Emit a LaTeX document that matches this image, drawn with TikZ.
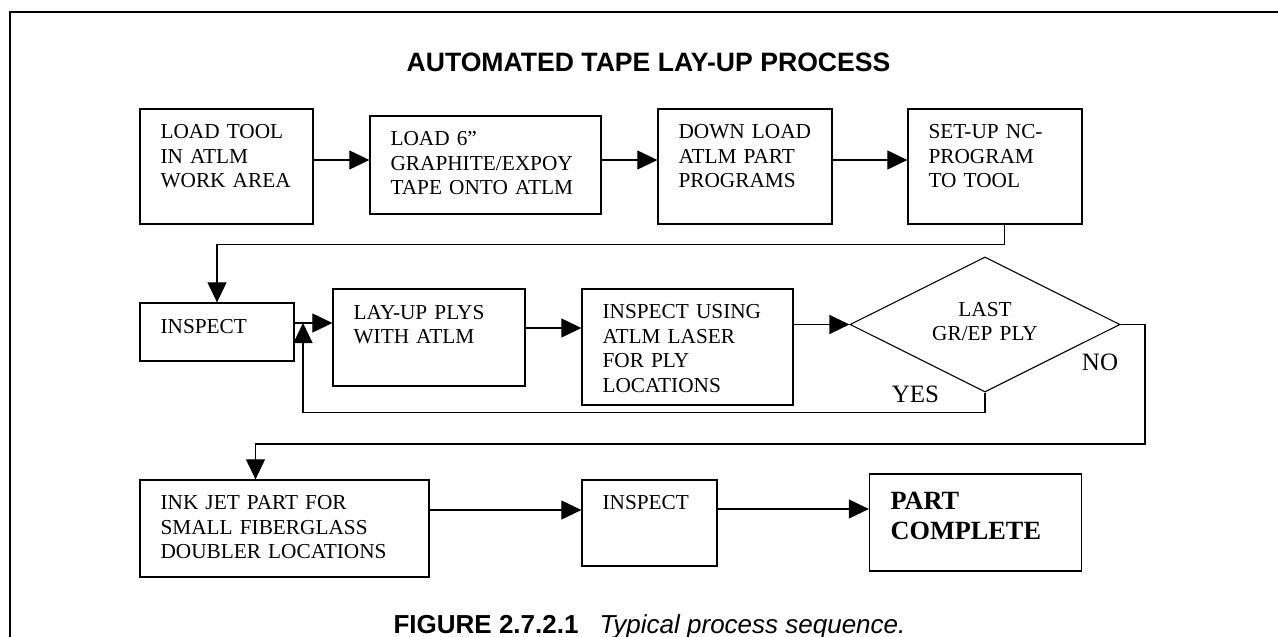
\documentclass[tikz,border=0pt]{standalone}
\usepackage{fontspec}
\setmainfont{Liberation Serif}
\newfontfamily\arialfont{Liberation Sans}
\usetikzlibrary{arrows.meta,shapes.geometric,calc}
\begin{document}
\begin{tikzpicture}[x=1pt,y=-1pt,
  box/.style={draw,line width=1.3pt,inner sep=0pt},
  conn/.style={line width=1.1pt,-{Triangle[length=20pt,width=19pt]}},
  frame/.style={line width=2pt},
  txt/.style={font=\fontsize{21.3}{24.5}\selectfont,text width=280pt,align=left,inner sep=0pt,anchor=base west},
  bigtxt/.style={font=\bfseries\fontsize{26.3}{30}\selectfont,text width=180pt,align=left,inner sep=0pt,anchor=base west},
  lbl/.style={font=\fontsize{25}{28}\selectfont,inner sep=0pt,anchor=base},
  head/.style={font=\arialfont\bfseries\fontsize{26.6}{30}\selectfont,inner sep=0pt,anchor=base}
]
\useasboundingbox (0,0) rectangle (1278,637);
\draw[frame] (9.5,640) -- (9.5,12) -- (1280,12);

\node[head] (title) at (648.5,71) {AUTOMATED TAPE LAY-UP PROCESS};

% boxes
\node[box,minimum width=173pt,minimum height=115pt] (b1) at (226.5,166.5) {};
\node[box,minimum width=231pt,minimum height=98pt] (b2) at (485.5,165) {};
\node[box,minimum width=174pt,minimum height=115pt] (b3) at (745,166.5) {};
\node[box,minimum width=174pt,minimum height=115pt] (b4) at (995,166.5) {};
\node[box,minimum width=154pt,minimum height=58pt] (i1) at (217,332) {};
\node[box,minimum width=192pt,minimum height=97pt] (lu) at (429,337.5) {};
\node[box,minimum width=211pt,minimum height=116pt] (b5) at (687.5,347) {};
\node[draw,diamond,line width=1.1pt,inner sep=0pt,aspect=2,minimum width=270pt,minimum height=135pt] (d) at (985,324.5) {};
\node[box,minimum width=289pt,minimum height=97pt] (ink) at (284.5,528.5) {};
\node[box,minimum width=135pt,minimum height=86pt] (i2) at (649.5,523) {};
\node[box,minimum width=212pt,minimum height=97pt] (pc) at (975.5,522.5) {};

% texts
\node[txt] (t1) at ($(b1.north west)+(21,30.5)$) {LOAD TOOL\\IN ATLM\\WORK AREA};
\node[txt] (t2) at ($(b2.north west)+(21,30.5)$) {LOAD 6”\\GRAPHITE/EXPOY\\TAPE ONTO ATLM};
\node[txt] (t3) at ($(b3.north west)+(21,30.5)$) {DOWN LOAD\\ATLM PART\\PROGRAMS};
\node[txt] (t4) at ($(b4.north west)+(21,30.5)$) {SET-UP NC-\\PROGRAM\\TO TOOL};
\node[txt] (t5) at ($(i1.north west)+(21,31)$) {INSPECT};
\node[txt] (t6) at ($(lu.north west)+(21,31)$) {LAY-UP PLYS\\WITH ATLM};
\node[txt] (t7) at ($(b5.north west)+(21,30.5)$) {INSPECT USING\\ATLM LASER\\FOR PLY\\LOCATIONS};
\node[txt,text width=200pt,align=center,anchor=base] (t8) at (985,316) {LAST\\GR/EP PLY};
\node[txt] (t9) at ($(ink.north west)+(21,30.5)$) {INK JET PART FOR\\SMALL FIBERGLASS\\DOUBLER LOCATIONS};
\node[txt] (t10) at ($(i2.north west)+(21,30.5)$) {INSPECT};
\node[bigtxt] (t11) at ($(pc.north west)+(21.5,36)$) {PART\\COMPLETE};

\node[lbl] (yes) at (915.5,402) {YES};
\node[lbl] (no) at (1100,370) {NO};

% helper coordinates
\coordinate (r1) at (0,160);
\coordinate (r2) at (0,323);
\coordinate (r3) at (0,328);
\coordinate (r5) at (0,510);
\coordinate (r6) at (0,509);
\coordinate (j) at (303,323);
\coordinate (c4) at ([xshift=9.5pt]b4.south);
\coordinate (nc) at (1145,444);
\coordinate (inkin) at ([xshift=-29pt]ink.north);

% connectors
\draw[conn] (b1.east |- r1) -- (b2.west |- r1);
\draw[conn] (b2.east |- r1) -- (b3.west |- r1);
\draw[conn] (b3.east |- r1) -- (b4.west |- r1);
\draw[conn] (c4) -- ++(0,20) -| (i1.north);
\draw[conn] (i1.east |- r2) -- (lu.west |- r2);
\draw[conn] (lu.east |- r3) -- (b5.west |- r3);
\draw[conn] (b5.east |- d.west) -- (d.west);
\draw[conn] (d.south) -- ++(0,20) -| (j);
\draw[conn] (d.east) -| (nc) -| (inkin);
\draw[conn] (ink.east |- r5) -- (i2.west |- r5);
\draw[conn] (i2.east |- r6) -- (pc.west |- r6);

\node[font=\arialfont\fontsize{26}{30}\selectfont,inner sep=0pt,anchor=base] (cap) at (649.5,633) {\textbf{FIGURE 2.7.2.1}\hspace{21pt}\textit{Typical process sequence.}};
\end{tikzpicture}
\end{document}
